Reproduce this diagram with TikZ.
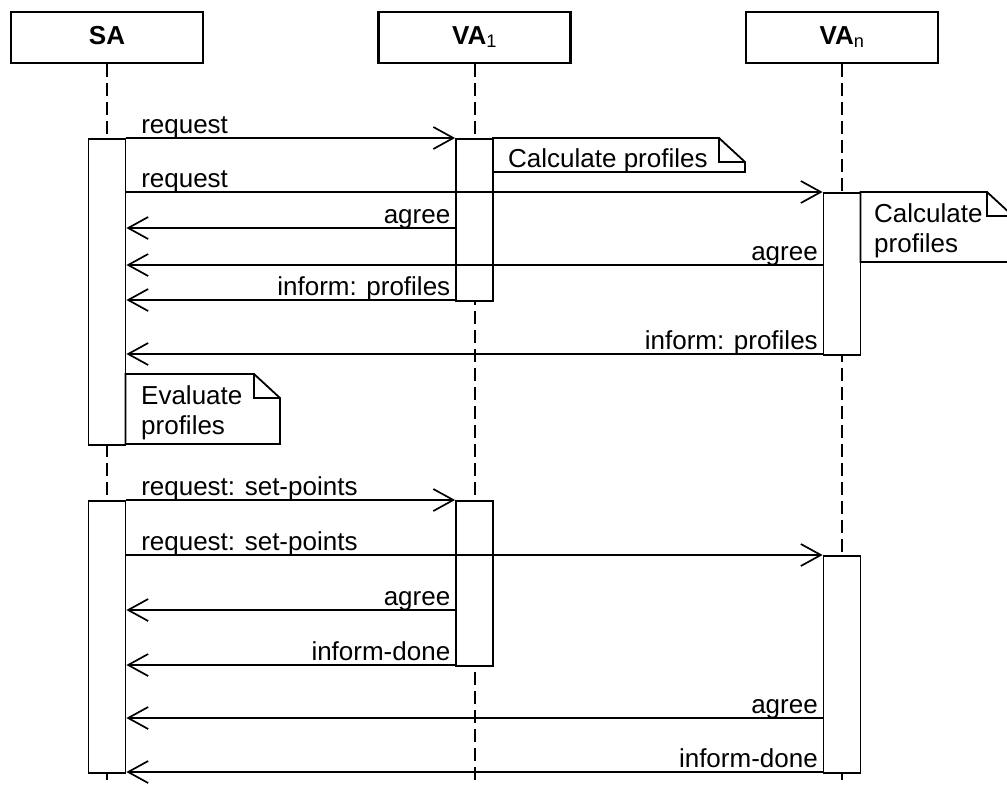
\documentclass[tikz,border=0pt]{standalone}
\usepackage{fontspec}
\setmainfont{Liberation Sans}
\usetikzlibrary{arrows.meta,positioning,calc}

\begin{document}
\begin{tikzpicture}[
  x=1pt, y=-1pt,
  head/.style={rectangle, draw, line width=2.2pt, fill=white,
               minimum width=192pt, minimum height=51pt,
               text height=19pt, text depth=6pt,
               font=\fontsize{26}{30}\selectfont\bfseries},
  life/.style={line width=2pt, dash pattern=on 13pt off 6pt},
  act/.style={rectangle, draw, fill=white, line width=1.8pt,
              minimum width=37pt, inner sep=0pt, anchor=north},
  msg/.style={-{Straight Barb[length=20pt,width=22pt]}, line width=1.7pt},
  lbl/.style={font=\fontsize{26}{30}\selectfont, inner sep=0pt},
  note/.style={draw, fill=white, line width=1.8pt}
]
  \useasboundingbox (0,0) rectangle (1007,785);
  \clip (0,0) rectangle (1007,785);

  % message rows
  \foreach \n/\y in {r1/138, r2/192, r3/228, r4/265, r5/300, r6/354,
                     r7/500, r8/555, r9/610, r10/665, r11/718, r12/772}
    \coordinate (\n) at (0,\y);
  \coordinate (bottom) at (0,785);

  % agents
  \node[head] (sa)  at (107,37.5)   {SA};
  \node[head] (va1) at (474.5,37.5) {VA\textsubscript{\mdseries 1}};
  \node[head] (van) at (842,37.5)   {VA\textsubscript{\mdseries n}};

  \foreach \h in {sa, va1, van}
    \draw[life] (\h.south) -- (\h.south |- bottom);

  % activations
  \node[act, minimum height=306pt] (sa1)  at (sa.south |- r1)  {};
  \node[act, minimum height=162pt] (va1a) at (va1.south |- r1) {};
  \node[act, minimum height=162pt] (vana) at (van.south |- r2) {};
  \node[act, minimum height=272pt] (sa2)  at (sa.south |- r7)  {};
  \node[act, minimum height=165pt] (va1b) at (va1.south |- r7) {};
  \node[act, minimum height=217pt] (vanb) at (van.south |- r8) {};

  % notes
  \foreach \xa/\ya/\xb/\yb in {493/138/745/172, 125.5/374/280/444,
                               860.5/192/1013/262} {
    \draw[note] (\xa,\ya) -- (\xb-26,\ya) -- (\xb,\ya+24)
      -- (\xb,\yb) -- (\xa,\yb) -- cycle;
    \draw[note, fill=none] (\xb-26,\ya) |- (\xb,\ya+24);
  }
  \node[lbl, anchor=base west] (calc1) at (508,167) {Calculate profiles};
  \node[lbl, anchor=north west, align=left] (calc2) at (874,203)
    {Calculate\\profiles};
  \node[lbl, anchor=north west, align=left] (eval) at (141,385)
    {Evaluate\\profiles};

  % requests from SA
  \foreach \s/\t/\r/\txt in {sa1/va1a/r1/request, sa1/vana/r2/request,
      sa2/va1b/r7/request: set-points, sa2/vanb/r8/request: set-points}
    \draw[msg] (\s.east |- \r) -- node[lbl, pos=0, anchor=base west,
      xshift=14pt, yshift=5pt] (l\r) {\txt} (\t.west |- \r);

  % answers to SA
  \foreach \s/\t/\r/\txt in {va1a/sa1/r3/agree, vana/sa1/r4/agree,
      va1a/sa1/r5/inform: profiles, vana/sa1/r6/inform: profiles,
      va1b/sa2/r9/agree, va1b/sa2/r10/inform-done,
      vanb/sa2/r11/agree, vanb/sa2/r12/inform-done}
    \draw[msg] (\s.west |- \r) -- node[lbl, pos=0, anchor=base east,
      xshift=-4pt, yshift=5pt] (l\r) {\txt} (\t.east |- \r);
\end{tikzpicture}
\end{document}
